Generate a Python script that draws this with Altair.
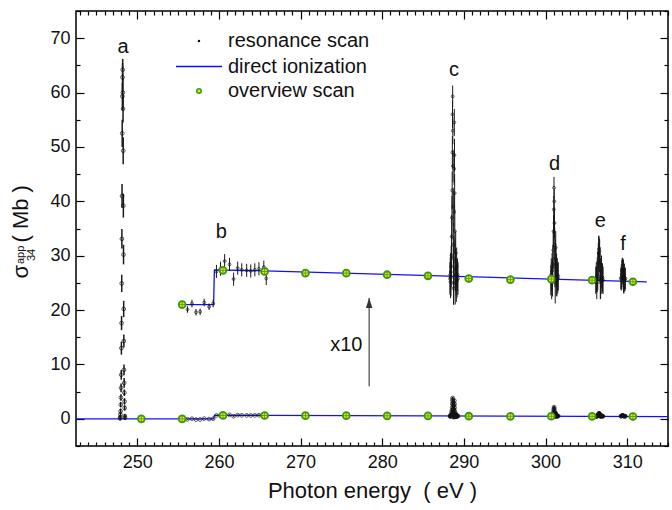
import altair as alt
import pandas as pd

# ---------------- resonance scan: raw cross section (Mb) with 1-sigma errors ----------------
a_e = [247.90, 247.92, 247.94, 247.96, 247.98, 248.00, 248.02, 248.04, 248.06, 248.08,
       248.10, 248.12, 248.14, 248.16, 248.18, 248.20, 248.22, 248.24, 248.26, 248.28,
       248.30, 248.32, 248.34, 248.36, 248.38, 248.40, 248.42, 248.44, 248.46, 248.48, 248.50]
a_v = [0.1, 0.3, 0.8, 1.4, 2.6, 3.9, 5.7, 8.1, 13.0, 17.6,
       24.9, 33.1, 41.0, 52.5, 59.3, 62.8, 64.2, 60.0, 57.0, 49.3,
       39.2, 30.2, 20.2, 14.3, 9.0, 6.6, 4.8, 3.2, 2.0, 0.5, 0.2]
a_err = [0.4, 0.4, 0.5, 0.5, 0.5, 0.6, 0.8, 0.9, 1.2, 1.3,
         1.6, 1.8, 2.2, 2.5, 2.5, 2.6, 2.0, 2.6, 2.5, 2.5,
         2.2, 1.8, 1.5, 1.2, 1.0, 0.9, 0.6, 0.6, 0.5, 0.4, 0.4]

b_e = [255.7, 256.15, 256.7, 257.2, 257.7, 258.2, 258.8, 259.3,
       259.7, 260.2, 260.7, 261.3, 261.8, 262.3, 262.8, 263.4, 263.9, 264.4, 264.9, 265.5, 265.8]
b_v = [0.00, -0.09, 0.02, -0.14, -0.13, 0.04, -0.04, 0.02,
       0.61, 0.66, 0.80, 0.74, 0.47, 0.67, 0.64, 0.63, 0.62, 0.64, 0.66, 0.69, 0.48]
b_err = [0.06, 0.06, 0.07, 0.06, 0.06, 0.07, 0.06, 0.07,
         0.12, 0.13, 0.13, 0.12, 0.12, 0.12, 0.12, 0.12, 0.12, 0.12, 0.12, 0.12, 0.12]

c_e = [288.30, 288.33, 288.36, 288.39, 288.42, 288.45, 288.48, 288.51, 288.54, 288.57,
       288.59, 288.61, 288.63, 288.65, 288.67, 288.69, 288.71, 288.73, 288.75, 288.77,
       288.79, 288.81, 288.83, 288.85, 288.87, 288.89, 288.91, 288.94, 288.97, 289.00,
       289.04, 289.08, 289.12, 289.17, 289.22, 289.28]
c_v = [0.48, 0.55, 0.42, 0.60, 0.50, 0.70, 0.90, 1.25, 1.60, 2.10,
       2.80, 3.50, 3.83, 3.20, 2.55, 1.80, 1.10, 0.40, 0.30, 0.85,
       1.70, 2.50, 3.35, 2.75, 2.05, 1.35, 0.80, 0.35, 0.65, 0.95,
       0.55, 0.40, 0.70, 0.45, 0.55, 0.48]
c_err = [0.30, 0.32, 0.30, 0.35, 0.35, 0.38, 0.40, 0.40, 0.40, 0.35,
         0.30, 0.25, 0.20, 0.25, 0.30, 0.35, 0.40, 0.40, 0.30, 0.40,
         0.35, 0.30, 0.25, 0.30, 0.35, 0.40, 0.40, 0.35, 0.40, 0.40,
         0.38, 0.35, 0.35, 0.32, 0.30, 0.30]

d_e = [300.65, 300.70, 300.75, 300.80, 300.85, 300.90, 300.94, 300.98, 301.01, 301.04,
       301.07, 301.10, 301.13, 301.16, 301.19, 301.22, 301.25, 301.28, 301.32, 301.36,
       301.40, 301.45, 301.50, 301.56]
d_v = [0.45, 0.55, 0.40, 0.62, 0.50, 0.75, 1.00, 1.35, 1.75, 2.15,
       1.90, 1.50, 1.10, 0.70, 0.40, 0.85, 1.05, 0.75, 0.50, 0.62,
       0.45, 0.55, 0.48, 0.52]
d_err = [0.28, 0.30, 0.30, 0.33, 0.35, 0.35, 0.35, 0.30, 0.25, 0.20,
         0.22, 0.28, 0.32, 0.38, 0.38, 0.35, 0.30, 0.32, 0.34, 0.32,
         0.30, 0.30, 0.28, 0.26]

e_e = [306.15, 306.22, 306.28, 306.34, 306.40, 306.46, 306.51, 306.55, 306.59, 306.63,
       306.67, 306.71, 306.75, 306.80, 306.86, 306.92, 306.98, 307.05]
e_v = [0.45, 0.50, 0.40, 0.55, 0.62, 0.78, 0.95, 1.02, 0.98, 0.90,
       0.72, 0.48, 0.45, 0.52, 0.60, 0.48, 0.50, 0.45]
e_err = [0.25, 0.28, 0.30, 0.32, 0.35, 0.35, 0.32, 0.24, 0.24, 0.30,
         0.34, 0.38, 0.34, 0.32, 0.30, 0.28, 0.26, 0.25]

f_e = [309.22, 309.28, 309.34, 309.40, 309.45, 309.50, 309.55, 309.60, 309.66, 309.72, 309.78]
f_v = [0.48, 0.50, 0.55, 0.62, 0.64, 0.58, 0.52, 0.48, 0.50, 0.46, 0.48]
f_err = [0.20, 0.24, 0.27, 0.24, 0.22, 0.26, 0.30, 0.28, 0.25, 0.22, 0.20]

# ---------------- overview scan (raw, Mb) ----------------
ov_e = [250.5, 255.5, 260.5, 265.6, 270.6, 275.6, 280.6, 285.6, 290.6, 295.7, 300.7, 305.7, 310.7]
ov_v = [0.0, 0.0, 0.63, 0.61, 0.58, 0.58, 0.55, 0.53, 0.48, 0.46, 0.47, 0.45, 0.42]

# ---------------- direct ionization (raw, Mb) ----------------
di_e = [242.5, 259.35, 259.45, 265.6, 315.0]
di_v = [0.0, 0.0, 0.64, 0.62, 0.41]
di10_e = [255.0, 259.35, 259.45, 265.6, 312.4]
di10_v = [0.0, 0.0, 0.64, 0.62, 0.42]

# magnified copy: y = OFFSET + GAIN * sigma, drawn from MAG_FROM upwards
OFFSET = 21.0
GAIN = 10.0
MAG_FROM = 255.0

# ---------------- annotations ----------------
peak_lab = ["a", "b", "c", "d", "e", "f"]
peak_e = [248.25, 260.3, 288.8, 301.1, 306.7, 309.5]
peak_y = [68.3, 34.4, 64.1, 46.8, 36.4, 32.1]

arrow_e = [278.4]
arrow_from = [6.0]
arrow_to = [22.2]
gain_label = ["x10"]
gain_label_e = [275.6]
gain_label_y = [13.5]

legend_labels = ["resonance scan", "direct ionization", "overview scan"]
x_title = "Photon energy\u00a0 ( eV )"

x_major = [250, 260, 270, 280, 290, 300, 310]
x_minor = [v for v in range(243, 316) if v % 10 != 0]
y_major = [0, 10, 20, 30, 40, 50, 60, 70]
y_minor = [-5, 5, 15, 25, 35, 45, 55, 65, 75]

FONT = "Liberation Sans"
INK = "#111111"

res = pd.DataFrame({
    "e": a_e + b_e + c_e + d_e + e_e + f_e,
    "v": a_v + b_v + c_v + d_v + e_v + f_v,
    "err": a_err + b_err + c_err + d_err + e_err + f_err,
})
ov = pd.DataFrame({"e": ov_e, "v": ov_v})
di = pd.DataFrame({"e": di_e, "v": di_v})
di10 = pd.DataFrame({"e": di10_e, "v": di10_v})
peaks = pd.DataFrame({"e": peak_e, "y": peak_y, "t": peak_lab})
arrow = pd.DataFrame({"e": arrow_e, "y0": arrow_from, "y1": arrow_to})
gl = pd.DataFrame({"e": gain_label_e, "y": gain_label_y, "t": gain_label})
one = pd.DataFrame({"e": [250.0], "v": [0.0]})

xs = alt.Scale(domain=[242.5, 315.0], nice=False, zero=False)
ys = alt.Scale(domain=[-5, 75], nice=False, zero=False)


def X(field="e"):
    return alt.X(f"{field}:Q", scale=xs, axis=None)


def Y(field):
    return alt.Y(f"{field}:Q", scale=ys, axis=None)


mag = f"{OFFSET} + {GAIN} * "

# direct ionization lines
di_low = alt.Chart(di).mark_line(color="#1010ff", strokeWidth=1.3).encode(x=X(), y=Y("v"))
di_high = (alt.Chart(di10)
           .transform_calculate(y=mag + "datum.v")
           .mark_line(color="#1010ff", strokeWidth=1.3)
           .encode(x=X(), y=Y("y")))

# resonance scan, raw and magnified
res_low = alt.Chart(res).transform_calculate(
    y="datum.v", lo="datum.v - datum.err", hi="datum.v + datum.err")
res_high = alt.Chart(res).transform_filter(f"datum.e >= {MAG_FROM}").transform_calculate(
    y=mag + "datum.v", lo=mag + "(datum.v - datum.err)", hi=mag + "(datum.v + datum.err)")

res_layers = []
for base, pt_size, lw in ((res_low, 14, 1.5), (res_high, 8, 1.0)):
    res_layers.append(base.mark_rule(color="#1a1a1a", strokeWidth=lw)
                      .encode(x=X(), y=Y("lo"), y2="hi:Q"))
    res_layers.append(base.mark_point(shape="circle", filled=False, size=pt_size,
                                      color="#111111", strokeWidth=1.0)
                      .encode(x=X(), y=Y("y")))

# overview scan, raw and magnified
ov_low = alt.Chart(ov).transform_calculate(y="datum.v")
ov_high = alt.Chart(ov).transform_filter(f"datum.e >= {MAG_FROM}").transform_calculate(
    y=mag + "datum.v")
ov_layers = []
for base in (ov_low, ov_high):
    ov_layers.append(base.mark_point(shape="circle", filled=True, size=48, fill="#e2ee1c",
                                     stroke="#3a9a14", strokeWidth=1.8, opacity=1)
                     .encode(x=X(), y=Y("y")))
    ov_layers.append(base.mark_point(shape="M-1,0L1,0M0,-1L0,1", size=34, filled=False,
                                     color="#2f6e10", strokeWidth=0.9)
                     .encode(x=X(), y=Y("y")))

# peak labels, gain arrow and its label
peak_text = alt.Chart(peaks).mark_text(font=FONT, fontSize=20, color=INK,
                                       align="center", baseline="middle").encode(
    x=X(), y=Y("y"), text="t:N")
arrow_shaft = alt.Chart(arrow).mark_rule(color="#333333", strokeWidth=1.1).encode(
    x=X(), y=Y("y0"), y2="y1:Q")
arrow_head = alt.Chart(arrow).mark_point(shape="M0,-1L0.65,1L-0.65,1Z", size=100,
                                         filled=True, color="#333333", opacity=1).encode(
    x=X(), y=alt.Y("y1:Q", scale=ys, axis=None), yOffset=alt.value(5))
gain_text = alt.Chart(gl).mark_text(font=FONT, fontSize=20, color=INK,
                                    align="center", baseline="middle").encode(
    x=X(), y=Y("y"), text="t:N")


def txt(label, x, y, size=20, angle=0, align="left", baseline="middle"):
    kw = dict(font=FONT, fontSize=size, color=INK, align=align, baseline=baseline)
    if angle:
        kw["angle"] = angle
    return alt.Chart(one).mark_text(**kw).encode(
        x=alt.value(x), y=alt.value(y), text=alt.value(label))


# legend
legend = [
    alt.Chart(one).mark_point(shape="circle", filled=True, size=6, color="#111111", opacity=1)
    .encode(x=alt.value(123), y=alt.value(30)),
    txt(legend_labels[0], 152, 30),
    alt.Chart(one).mark_rule(color="#1010ff", strokeWidth=1.3)
    .encode(x=alt.value(100), x2=alt.value(146), y=alt.value(55.5)),
    txt(legend_labels[1], 152, 55.5),
    alt.Chart(one).mark_point(shape="circle", filled=True, size=20, fill="#e2ee1c",
                              stroke="#3a9a14", strokeWidth=1.5, opacity=1)
    .encode(x=alt.value(123), y=alt.value(80)),
    txt(legend_labels[2], 152, 80),
]

# y-axis title: sigma with stacked super/subscript, rotated
y_title = [
    txt("σ", -47.7, 260.7, size=22, angle=270, align="center", baseline="alphabetic"),
    txt("app", -52.0, 253.0, size=11, angle=270, align="left", baseline="alphabetic"),
    txt("34", -41.5, 250.0, size=11, angle=270, align="left", baseline="alphabetic"),
    txt("( Mb )", -47.7, 231.5, size=22, angle=270, align="left", baseline="alphabetic"),
]


# inward ticks on all four sides, plus labelled axes
def tick_axis(orient, values, size):
    return alt.Axis(orient=orient, values=values, tickSize=size, offset=-size, labels=False,
                    domain=False, grid=False, title=None, tickColor="black", tickWidth=1.2)


def axis_layer(xaxis, yaxis):
    return alt.Chart(one).mark_point(opacity=0).encode(
        x=alt.X("e:Q", scale=xs, axis=xaxis), y=alt.Y("v:Q", scale=ys, axis=yaxis))


axes = [
    axis_layer(tick_axis("bottom", x_major, 8), tick_axis("left", y_major, 8)),
    axis_layer(tick_axis("bottom", x_minor, 4), tick_axis("left", y_minor, 4)),
    axis_layer(tick_axis("top", x_major, 8), tick_axis("right", y_major, 8)),
    axis_layer(tick_axis("top", x_minor, 4), tick_axis("right", y_minor, 4)),
    axis_layer(
        alt.Axis(orient="bottom", values=x_major, ticks=False, domain=False, grid=False,
                 labelFont=FONT, labelFontSize=18, labelColor=INK, labelPadding=7,
                 title=x_title, titleFont=FONT, titleFontSize=22, titleFontWeight="normal",
                 titleColor=INK, titlePadding=9),
        alt.Axis(orient="left", values=y_major, ticks=False, domain=False, grid=False,
                 labelFont=FONT, labelFontSize=18, labelColor=INK, labelPadding=6,
                 title=None),
    ),
]

chart = alt.layer(
    di_low, di_high, *res_layers, *ov_layers, peak_text, arrow_shaft, arrow_head, gain_text,
    *legend, *y_title, *axes,
).resolve_axis(x="independent", y="independent").properties(
    width=592, height=435,
    autosize=alt.AutoSizeParams(type="none"),
    padding={"left": 76, "top": 11, "right": 4, "bottom": 64},
    background="white",
).configure_view(stroke="black", strokeWidth=1.5)

chart.save("out.html", embed_options={"renderer": "svg", "actions": False})
